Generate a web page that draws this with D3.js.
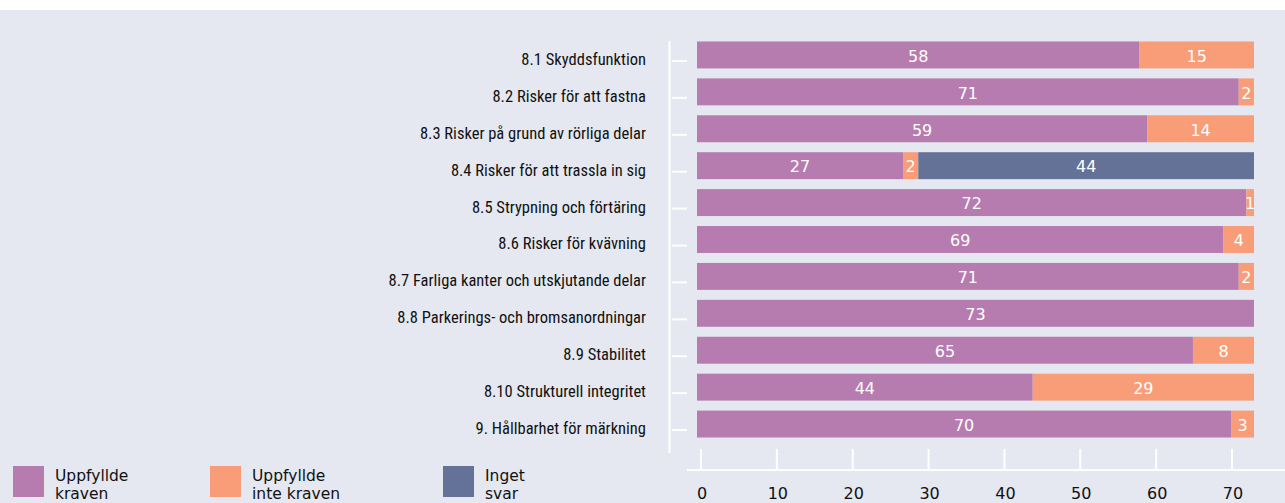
<!DOCTYPE html>
<html><head><meta charset="utf-8">
<script src="https://cdn.jsdelivr.net/npm/d3@7"></script>
<style>
html,body{margin:0;padding:0;background:#fff;}
svg{display:block;}
</style></head>
<body><svg id="c" width="1285" height="503"></svg>
<script>
const categories = ["8.1 Skyddsfunktion","8.2 Risker för att fastna","8.3 Risker på grund av rörliga delar","8.4 Risker för att trassla in sig","8.5 Strypning och förtäring","8.6 Risker för kvävning","8.7 Farliga kanter och utskjutande delar","8.8 Parkerings- och bromsanordningar","8.9 Stabilitet","8.10 Strukturell integritet","9. Hållbarhet för märkning"];
const seriesNames = ["Uppfyllde kraven","Uppfyllde inte kraven","Inget svar"];
const uppfyllde = [58,71,59,27,72,69,71,73,65,44,70];
const inteUppfyllde = [15,2,14,2,1,4,2,0,8,29,3];
const ingetSvar = [0,0,0,44,0,0,0,0,0,0,0];
const xTicks = [0,10,20,30,40,50,60,70];
const colors = ["#b77caf","#f89d77","#657298"];
const legendLines = [["Uppfyllde","kraven"],["Uppfyllde","inte kraven"],["Inget","svar"]];

const svg = d3.select("#c");
svg.append("rect").attr("x",0).attr("y",10).attr("width",1285).attr("height",493).attr("fill","#e5e8f0");

const x = d3.scaleLinear().domain([0,73]).range([697,1254]);
const y = d3.scaleBand().domain(categories).range([36.5,442.5]).paddingInner(0.27).paddingOuter(0.135);

const series = [uppfyllde, inteUppfyllde, ingetSvar];
const rows = categories.map((c,i)=>{
  let acc=0; return series.map((s,k)=>{const v=s[i]; const seg={cat:c,k,v,x0:acc,x1:acc+v}; acc+=v; return seg;});
});
const segs = rows.flat().filter(d=>d.v>0);

const g = svg.append("g");
g.selectAll("rect.bar").data(segs).join("rect").attr("class","bar")
  .attr("x",d=>x(d.x0)).attr("width",d=>x(d.x1)-x(d.x0))
  .attr("y",d=>y(d.cat)).attr("height",y.bandwidth())
  .attr("fill",d=>colors[d.k]);
g.selectAll("text.val").data(segs).join("text").attr("class","val")
  .attr("x",d=>(x(d.x0)+x(d.x1))/2).attr("y",d=>y(d.cat)+y.bandwidth()/2+1)
  .attr("dy","0.36em").attr("text-anchor","middle")
  .attr("font-family","'DejaVu Sans', sans-serif").attr("font-size",16)
  .attr("fill","#fff").text(d=>d.v);

// y axis
svg.append("line").attr("x1",669.5).attr("x2",669.5).attr("y1",41).attr("y2",453).attr("stroke","#fff").attr("stroke-width",2);
svg.selectAll("line.yt").data(categories).join("line").attr("class","yt")
  .attr("x1",672).attr("x2",687)
  .attr("y1",d=>y(d)+y.bandwidth()/2+6).attr("y2",d=>y(d)+y.bandwidth()/2+6)
  .attr("stroke","#fff").attr("stroke-width",2);
svg.selectAll("text.cat").data(categories).join("text").attr("class","cat")
  .attr("x",646).attr("y",d=>y(d)+y.bandwidth()/2+4).attr("dy","0.36em")
  .attr("text-anchor","end").attr("font-family","'Liberation Sans Narrow', 'Roboto Condensed', sans-serif")
  .attr("font-size",16.5).attr("fill","#111").text(d=>d);

// x axis
const xa = d3.scaleLinear().domain([0,70]).range([701,1232]);
svg.append("line").attr("x1",687).attr("x2",1285).attr("y1",470).attr("y2",470).attr("stroke","#fff").attr("stroke-width",2);
svg.selectAll("line.xt").data(xTicks).join("line").attr("class","xt")
  .attr("x1",d=>xa(d)).attr("x2",d=>xa(d)).attr("y1",449).attr("y2",470)
  .attr("stroke","#fff").attr("stroke-width",2);
svg.selectAll("text.xl").data(xTicks).join("text").attr("class","xl")
  .attr("x",d=>xa(d)+1).attr("y",493).attr("dy","0.36em").attr("text-anchor","middle")
  .attr("font-family","'DejaVu Sans', sans-serif").attr("font-size",16).attr("fill","#111").text(d=>d);

// legend
const lx = [13,210,443];
const lg = svg.selectAll("g.leg").data(seriesNames).join("g").attr("class","leg")
  .attr("transform",(d,i)=>`translate(${lx[i]},466)`);
lg.append("rect").attr("width",31).attr("height",31).attr("fill",(d,i)=>colors[i]);
lg.each(function(d,i){
  const t = d3.select(this).append("text").attr("x",42).attr("font-family","'DejaVu Sans', sans-serif").attr("font-size",15.5).attr("fill","#111");
  legendLines[i].forEach((l,j)=>t.append("tspan").attr("x",42).attr("y",15+j*18).text(l));
});
</script></body></html>
